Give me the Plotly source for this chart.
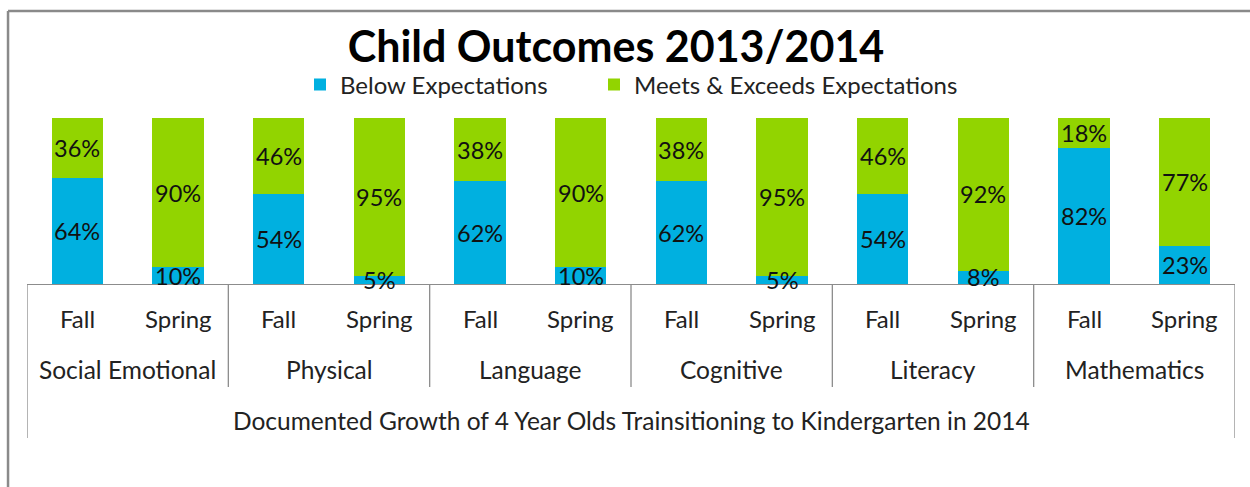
import plotly.graph_objects as go

groups = ["Social Emotional", "Physical", "Language", "Cognitive", "Literacy", "Mathematics"]
seasons = ["Fall", "Spring"]
below = [64, 10, 54, 5, 62, 10, 62, 5, 54, 8, 82, 23]
meets = [36, 90, 46, 95, 38, 90, 38, 95, 46, 92, 18, 77]
series_names = ["Below Expectations", "Meets & Exceeds Expectations"]
axis_title = "Documented Growth of 4 Year Olds Trainsitioning to Kindergarten in 2014"
chart_title = "Child Outcomes 2013/2014"

BLUE = "#00B0E0"
GREEN = "#92D400"
GRID = "#8C8C8C"
BORDER = "#8A8A8A"
FONT = "Lato"

n = len(below)
xs = list(range(n))
season_labels = [seasons[i % 2] for i in xs]

fig = go.Figure()
fig.add_bar(x=xs, y=below, name=series_names[0], marker_color=BLUE, marker_line_width=0,
            legend="legend", showlegend=True)
fig.add_bar(x=xs, y=meets, name=series_names[1], marker_color=GREEN, marker_line_width=0,
            legend="legend2", showlegend=True)

ann = []
for i in xs:
    ann.append(dict(x=i, y=below[i] / 2, xref="x", yref="y", text=f"{below[i]}%",
                    yanchor="middle", showarrow=False,
                    font=dict(size=23.5, color="#111", family=FONT)))
    ann.append(dict(x=i, y=below[i] + meets[i] / 2, xref="x", yref="y", text=f"{meets[i]}%",
                    yanchor="middle", showarrow=False,
                    font=dict(size=23.5, color="#111", family=FONT)))
for i in xs:
    ann.append(dict(x=i, y=-0.205, xref="x", yref="paper", text=season_labels[i],
                    yanchor="middle", showarrow=False,
                    font=dict(size=24, color="#222", family=FONT)))
for g, name in enumerate(groups):
    ann.append(dict(x=2 * g + 0.5, y=-0.518, xref="x", yref="paper", text=name,
                    yanchor="middle", showarrow=False,
                    font=dict(size=24.5, color="#222", family=FONT)))
ann.append(dict(x=(n - 1) / 2, y=-0.825, xref="x", yref="paper", text=axis_title,
                yanchor="middle", showarrow=False,
                font=dict(size=24.5, color="#222", family=FONT)))

shapes = []
for g in range(len(groups) + 1):
    xb = 2 * g - 0.5
    outer = g == 0 or g == len(groups)
    shapes.append(dict(type="line", xref="x", yref="paper", x0=xb, x1=xb, y0=0,
                       y1=-0.928 if outer else -0.62, line=dict(color=GRID, width=1.3)))
# chart border (left and top edges visible)
shapes.append(dict(type="line", xref="paper", yref="paper", x0=-0.0157, x1=-0.0157, y0=-1.3, y1=1.645,
                   line=dict(color=BORDER, width=2.5)))
shapes.append(dict(type="line", xref="paper", yref="paper", x0=-0.0157, x1=1.1, y0=1.645, y1=1.645,
                   line=dict(color=BORDER, width=2.5)))

leg_common = dict(orientation="h", xanchor="left", y=1.2, yanchor="middle",
                  font=dict(size=24, color="#222", family=FONT), itemwidth=30,
                  bgcolor="rgba(0,0,0,0)")

fig.update_layout(
    width=1250, height=487,
    margin=dict(l=27, r=15, t=118, b=203, autoexpand=False),
    paper_bgcolor="white", plot_bgcolor="white",
    barmode="stack", bargap=0.49, showlegend=True,
    title=dict(text=f"<b>{chart_title}</b>", x=616 / 1250, xanchor="center",
               y=1 - 47 / 487, yanchor="middle", font=dict(size=43, color="#000", family=FONT)),
    legend=dict(x=(300 - 27) / 1208, **leg_common),
    legend2=dict(x=(594 - 27) / 1208, **leg_common),
    xaxis=dict(range=[-0.5, n - 0.5], showticklabels=False, showgrid=False, zeroline=False,
               showline=True, linecolor=GRID, linewidth=1.3, ticks=""),
    yaxis=dict(range=[0, 100], visible=False),
    annotations=ann, shapes=shapes,
)

fig.write_html("out.html", config={"displayModeBar": False},
               post_script="document.body.style.margin='0';document.body.style.overflow='hidden';"
                           "document.documentElement.style.overflow='hidden';")
